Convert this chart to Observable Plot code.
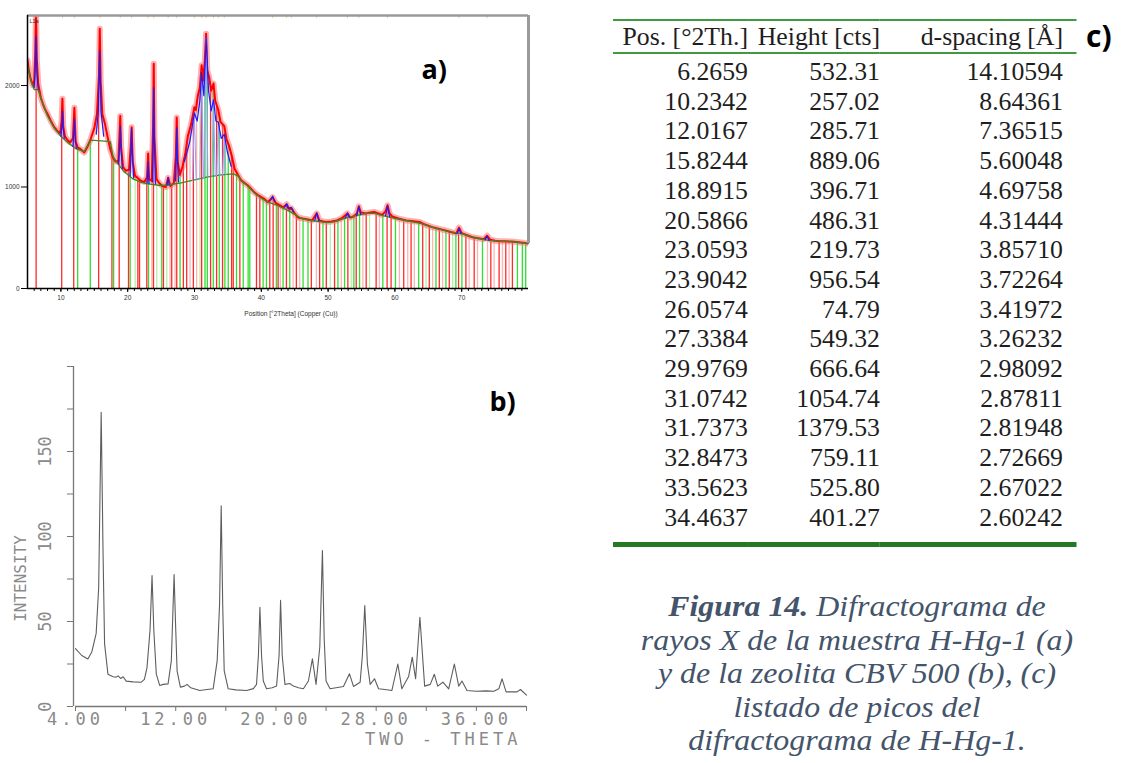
<!DOCTYPE html>
<html><head><meta charset="utf-8">
<script src="https://cdn.jsdelivr.net/npm/d3@7"></script>
<script src="https://cdn.jsdelivr.net/npm/@observablehq/plot@0.6"></script>
<style>
body{margin:0;background:#fff;}
#fig{position:relative;width:1121px;height:763px;overflow:hidden;background:#fff;}
.abs{position:absolute;}
#tbl{left:613px;top:19px;transform-origin:0 0;font-family:"Liberation Serif","Times New Roman",serif;color:#1e1e1e;}
#tbl table{border-collapse:collapse;table-layout:fixed;}
#tbl th,#tbl td{text-align:right;white-space:nowrap;padding:0;font-weight:normal;}
#tbl thead tr{border-top:2px solid #3f9b3f;border-bottom:2px solid #3f9b3f;}
#tbl tbody tr:last-child td{padding-bottom:10px;}
#tbl tbody{border-bottom:5px solid #237a23;}
#cap{left:457px;width:800px;top:590px;text-align:center;font-family:"Liberation Serif","Times New Roman",serif;font-style:italic;color:#44546a;font-size:29px;line-height:33.5px;transform:scaleX(1.1);transform-origin:400px 0;}
#clab{left:1086px;top:15px;font-family:"Open Sans",sans-serif;font-weight:700;font-size:30px;color:#000;}
</style></head><body><div id="fig"></div><script>
// ---------- Panel a: H-Hg-1 diffractogram ----------
const yMaxA = 2690;
const xTicksMajorA = [10, 20, 30, 40, 50, 60, 70];
const xTicksMinorA = d3.range(6, 80, 1);
const yTicksA = [0, 1000, 2000];
const scanA = [[5.0,2250],[5.2,2150],[5.5,2060],[5.8,2000],[6.0,2050],[6.15,2300],[6.27,2720],[6.4,2250],[6.6,2020],[6.8,1950],[7.0,1880],[7.3,1820],[7.6,1770],[8.0,1720],[8.5,1650],[9.0,1590],[9.5,1550],[9.9,1530],[10.1,1650],[10.23,1870],[10.35,1600],[10.6,1500],[11.0,1460],[11.4,1440],[11.8,1480],[12.02,1780],[12.2,1450],[12.5,1390],[13.0,1370],[13.5,1340],[14.0,1400],[14.5,1480],[15.0,1580],[15.4,1720],[15.7,2100],[15.82,2560],[15.95,2050],[16.2,1720],[16.6,1620],[17.0,1490],[17.4,1370],[17.8,1290],[18.2,1250],[18.6,1260],[18.8,1560],[18.89,1700],[19.0,1400],[19.3,1200],[19.7,1160],[20.2,1170],[20.45,1400],[20.59,1590],[20.75,1250],[21.1,1110],[21.5,1090],[22.0,1060],[22.5,1050],[22.9,1100],[23.06,1330],[23.2,1080],[23.6,1060],[23.8,1600],[23.9,2215],[24.0,1500],[24.3,1080],[24.7,1040],[25.2,1010],[25.7,1000],[26.06,1090],[26.4,1010],[26.9,1040],[27.2,1300],[27.34,1685],[27.5,1250],[27.8,1120],[28.2,1200],[28.6,1320],[29.0,1500],[29.5,1620],[29.98,1785],[30.2,1760],[30.5,1900],[30.8,1980],[31.07,2200],[31.3,2050],[31.55,2250],[31.74,2510],[31.9,2150],[32.2,2080],[32.5,1950],[32.85,2020],[33.1,1850],[33.56,1760],[33.9,1640],[34.2,1620],[34.46,1600],[34.8,1470],[35.2,1400],[35.6,1300],[36.0,1180],[36.5,1120],[37.0,1065],[37.5,1040],[38.0,1015],[38.5,980],[39.0,945],[39.5,920],[40.0,900],[40.5,880],[41.0,850],[41.7,900],[42.2,840],[42.8,820],[43.3,800],[43.8,830],[44.2,780],[44.5,790],[45.0,740],[45.5,700],[46.2,690],[47.0,680],[47.6,670],[48.3,740],[48.7,670],[49.3,660],[49.8,655],[50.5,660],[51.3,670],[52.0,690],[52.9,740],[53.3,700],[53.8,710],[54.3,740],[54.6,810],[54.9,750],[55.7,740],[56.3,750],[56.9,755],[57.5,740],[58.1,725],[58.6,760],[58.9,820],[59.2,740],[59.6,710],[60.5,690],[61.7,670],[62.5,665],[63.7,655],[64.5,630],[65.6,605],[66.5,590],[67.7,570],[68.5,555],[69.2,545],[69.6,600],[70.0,545],[70.8,525],[71.6,505],[72.5,495],[73.3,485],[73.8,520],[74.3,480],[75.0,470],[75.6,466],[76.5,465],[77.5,463],[78.5,455],[79.2,450],[80.0,443]];
const backgroundA = [[5.0,2200],[5.5,2050],[6.0,1960],[6.6,1960],[7.0,1870],[8.0,1700],[9.0,1580],[10.0,1500],[11.0,1440],[12.0,1390],[12.5,1370],[13.0,1360],[13.5,1350],[14.0,1410],[14.4,1460],[15.0,1460],[16.0,1455],[17.0,1450],[17.4,1445],[17.8,1300],[18.5,1230],[19.5,1150],[20.8,1080],[22.0,1045],[23.0,1030],[24.9,1015],[26.0,1020],[28.0,1040],[30.0,1070],[32.0,1100],[34.0,1120],[35.8,1130],[36.5,1110],[37.0,1060],[38.0,1010],[39.0,940],[40.0,890],[41.0,850],[42.0,830],[43.0,800],[44.0,770],[45.0,730],[46.0,690],[47.0,675],[48.0,665],[50.0,650],[51.0,660],[52.0,680],[53.0,700],[54.0,715],[55.0,730],[56.0,740],[57.0,740],[58.0,720],[59.0,705],[60.0,690],[62.0,665],[64.0,640],[66.0,595],[68.0,560],[70.0,540],[72.0,500],[74.0,475],[76.0,465],[78.0,458],[80.0,443]];
const fitPeaksA = [
  [[6.0,1980],[6.15,2150],[6.27,2490],[6.4,2150],[6.6,1960]],
  [[10.0,1500],[10.15,1600],[10.23,1745],[10.32,1600],[10.5,1480]],
  [[11.8,1400],[11.95,1550],[12.02,1670],[12.1,1540],[12.3,1380]],
  [[15.3,1520],[15.6,1750],[15.82,2345],[16.0,1750],[16.4,1500]],
  [[18.6,1230],[18.8,1400],[18.89,1600],[19.0,1380],[19.2,1180]],
  [[20.35,1110],[20.5,1350],[20.59,1575],[20.7,1330],[20.9,1090]],
  [[22.9,1040],[23.06,1250],[23.2,1035]],
  [[23.7,1050],[23.82,1500],[23.9,1977],[24.0,1450],[24.15,1030]],
  [[25.9,1020],[26.06,1095],[26.2,1020]],
  [[27.15,1060],[27.27,1350],[27.34,1585],[27.42,1330],[27.6,1050]],
  [[28.5,1250],[29.3,1450],[29.98,1730],[30.4,1650],[30.8,1850],[31.07,2130],[31.4,1900],[31.74,2470],[32.1,1950],[32.5,1750],[32.85,1860],[33.2,1650],[33.56,1640],[34.0,1480],[34.46,1520],[34.9,1350],[35.5,1200]],
  [[41.4,870],[41.7,910],[42.0,855]],
  [[43.5,800],[43.8,835],[44.0,790],[44.5,800],[44.8,760]],
  [[48.0,668],[48.3,745],[48.6,665]],
  [[52.6,695],[52.9,745],[53.2,703]],
  [[54.3,718],[54.6,810],[54.9,725]],
  [[58.6,718],[58.9,815],[59.2,705]],
  [[69.3,542],[69.6,590],[69.9,540]],
  [[73.5,478],[73.8,515],[74.1,474]]
];
const componentPeaksA = [
  [[29.7,1065],[29.98,1732],[30.25,1070]],
  [[30.8,1080],[31.07,2135],[31.35,1085]],
  [[31.45,1090],[31.74,2470],[32.0,1095]],
  [[32.6,1100],[32.85,1864],[33.1,1105]],
  [[33.3,1108],[33.56,1638],[33.8,1112]],
  [[34.2,1118],[34.46,1523],[34.7,1122]]
];
const sticksRed = [6.29,10.12,11.92,15.65,17.64,18.73,20.12,21.52,21.77,22.86,23.86,25.35,26.59,27.34,28.33,28.83,29.83,31.07,32.41,33.31,34.2,35.55,35.8,36.79,39.28,39.78,41.27,41.77,42.52,43.76,45.25,47.49,48.73,49.73,50.97,52.96,54.21,55.7,57.19,58.83,59.43,61.32,62.42,64.16,65.15,66.65,68.14,69.53,70.63,71.87,74.36,75.6,76.6,77.59];
const sticksGreen = [12.51,14.4,17.89,20.37,23.11,25.1,27.84,31.57,31.92,32.81,33.71,34.55,35.05,36.29,37.29,38.03,38.28,40.27,40.77,42.26,43.26,44.26,46.25,46.99,49.23,51.47,52.47,53.86,54.71,58.19,60.08,63.56,66.15,67.64,69.13,70.03,73.11,78.34,79.08,79.58];
const sticksPaleRed = [23.61,26.34,27.09,29.33,30.32,42.86,44.76,45.75,48.24,51.97,55.2,57.69,60.68,61.92,62.91,65.65,67.14,71.12,72.37,73.86,74.85,76.1,77.09];
const sticksPaleGreen = [21.12,24.35,25.85,30.82,50.33,53.46,56.2,64.66,68.64];
const extraPeakMarksA = [41.7,43.8,44.5,48.3,52.9,54.6,58.9,69.6,73.8];

// ---------- Peak list (table c) ----------
const peakPos = [6.2659,10.2342,12.0167,15.8244,18.8915,20.5866,23.0593,23.9042,26.0574,27.3384,29.9769,31.0742,31.7373,32.8473,33.5623,34.4637];
const peakHeight = [532.31,257.02,285.71,889.06,396.71,486.31,219.73,956.54,74.79,549.32,666.64,1054.74,1379.53,759.11,525.80,401.27];
const peakD = [14.10594,8.64361,7.36515,5.60048,4.69758,4.31444,3.85710,3.72264,3.41972,3.26232,2.98092,2.87811,2.81948,2.72669,2.67022,2.60242];
const tableHeaders = ["Pos. [°2Th.]", "Height [cts]", "d-spacing [Å]"];

// ---------- Panel b: CBV 500 ----------
const xTicksB = [4, 8, 12, 16, 20, 24, 28, 32, 36, 40];
const xLabelsB = [4, 12, 20, 28, 36];
const yTicksB = [0, 25, 50, 75, 100, 125, 150, 175, 200];
const yLabelsB = [0, 50, 100, 150];
const scanB = [[4.0,34],[4.5,30],[4.99,28],[5.3,32],[5.65,43],[5.85,70],[6.05,173],[6.2,90],[6.32,37],[6.59,19],[7.0,17.5],[7.25,17.3],[7.4,18],[7.6,16.5],[7.8,17.5],[8.05,14.9],[8.6,14.5],[9.25,14.3],[9.5,16],[9.71,23],[9.95,45],[10.11,77],[10.25,45],[10.45,19],[10.72,12.4],[11.0,13],[11.39,13.3],[11.65,27],[11.87,77.6],[11.98,50],[12.11,21],[12.37,11.4],[12.7,12],[12.9,13],[13.2,11],[13.92,9.4],[14.5,10],[14.99,10.4],[15.31,27],[15.5,60],[15.63,118],[15.75,60],[15.87,21],[16.19,10.4],[16.8,9.8],[17.65,9.4],[18.2,10.5],[18.45,13],[18.6,30],[18.72,58.4],[18.85,30],[18.99,15],[19.25,10.4],[19.7,11],[20.05,12],[20.25,30],[20.37,62.4],[20.5,30],[20.72,13],[21.1,13.5],[21.39,12],[21.8,11],[22.19,10.4],[22.59,15],[22.91,28],[23.2,13],[23.5,35],[23.71,91.8],[23.85,40],[24.0,15],[24.32,10.4],[24.8,11],[25.39,11.8],[25.87,19.2],[26.19,11.8],[26.72,14.3],[26.9,30],[27.09,59.4],[27.3,25],[27.52,13],[27.87,16.3],[28.19,10.4],[28.7,10],[29.25,9.4],[29.73,25],[30.05,10.4],[30.59,17.6],[30.88,29],[31.15,16.3],[31.49,52.5],[31.87,12],[32.32,13],[32.64,19],[32.91,12],[33.33,14.3],[33.79,10.4],[34.24,25],[34.59,12],[34.85,15],[35.25,9.4],[36.0,9],[36.8,9.2],[37.39,9],[37.79,10.4],[38.05,16.3],[38.37,8.6],[39.25,8.6],[39.52,10],[40.0,6.7]];

// ---------- build ----------
const fig = document.getElementById("fig");
const seg = arr => arr.flatMap((s, i) => s.map(p => ({seg: i, x: p[0], y: p[1]})));
const X = d => d[0], Y = d => d[1];
const sticks = (data, color) => Plot.ruleX(data, {x: d => d, y1: 0, y2: () => yMaxA, stroke: color, strokeWidth: 1.3});

const plotA = Plot.plot({
  width: 540, height: 330,
  marginLeft: 27, marginRight: 12, marginTop: 15, marginBottom: 42,
  x: {domain: [5, 80], label: null}, y: {domain: [0, yMaxA], label: null},
  style: {fontFamily: "'Liberation Sans', Arial, sans-serif", background: "transparent", color: "#000"},
  marks: [
    sticks(sticksPaleGreen, "#b6f0a8"),
    sticks(sticksPaleRed, "#ffb4b4"),
    sticks(sticksGreen, "#2fe02f"),
    sticks(sticksRed, "#ff2a2a"),
    Plot.areaY(scanA, {x: X, y1: Y, y2: () => yMaxA, fill: "white", clip: true}),
    Plot.line(scanA, {x: X, y: Y, stroke: "#ff7070", strokeWidth: 6, strokeOpacity: 0.55, clip: true}),
    Plot.line(scanA, {x: X, y: Y, stroke: "#ff0000", strokeWidth: 2, clip: true}),
    Plot.line(backgroundA, {x: X, y: Y, stroke: "#3a8a22", strokeWidth: 1.3}),
    Plot.line(seg(componentPeaksA), {x: "x", y: "y", z: "seg", stroke: "#9a9cff", strokeWidth: 1}),
    Plot.line(seg(fitPeaksA), {x: "x", y: "y", z: "seg", stroke: "#1c1cff", strokeWidth: 1.2, clip: true}),
    Plot.ruleX(peakPos.concat(extraPeakMarksA), {x: d => d, y1: () => yMaxA - 25, y2: () => yMaxA, stroke: "#f0a040", strokeWidth: 1}),
    Plot.ruleY([yMaxA], {stroke: "#9a9a9a", strokeWidth: 2.5}),
    Plot.ruleX([80], {y1: () => scanA[scanA.length - 1][1], y2: () => yMaxA, stroke: "#9a9a9a", strokeWidth: 3}),
    Plot.ruleX([5], {stroke: "#000", strokeWidth: 1.5}),
    Plot.ruleY([0], {stroke: "#000", strokeWidth: 1.5}),
    Plot.axisX(xTicksMinorA, {tickSize: 3, tickFormat: () => "", stroke: "#000", label: null}),
    Plot.axisX(xTicksMajorA, {tickSize: 4, tickPadding: 3, tickFormat: d => String(d), fontSize: 6.5, fill: "#333", stroke: "#000", label: null}),
    Plot.axisY(yTicksA, {tickSize: 6, tickPadding: 2, tickFormat: d => String(d), fontSize: 6.5, fill: "#333", stroke: "#000", label: null}),
    Plot.text(["Position [°2Theta] (Copper (Cu))"], {frameAnchor: "bottom", dx: 13, dy: 27, fontSize: 6.5, fill: "#333"}),
    Plot.text(["L1a"], {frameAnchor: "top-left", dx: 2, dy: 4, fontSize: 5.5, fill: "#333"}),
    Plot.text(["a)"], {frameAnchor: "top-right", textAnchor: "start", dx: -107, dy: 44, fontSize: 27, fontWeight: 700, fontFamily: "'Open Sans', sans-serif", fill: "#000"})
  ]
});
plotA.classList.add("abs"); plotA.style.left = "0px"; plotA.style.top = "0px";
fig.appendChild(plotA);

const mono = "'DejaVu Sans Mono', 'Liberation Mono', monospace";
const plotB = Plot.plot({
  width: 540, height: 423,
  marginLeft: 75, marginRight: 14, marginTop: 26, marginBottom: 57,
  x: {domain: [4, 40], label: null}, y: {domain: [0, 200], label: null},
  style: {fontFamily: mono, background: "transparent", color: "#777"},
  marks: [
    Plot.ruleX([4], {stroke: "#777", strokeWidth: 1.3, dx: -2}),
    Plot.ruleY([0], {stroke: "#777", strokeWidth: 1.3}),
    Plot.axisY(yTicksB, {tickSize: 6, tickFormat: () => "", stroke: "#777", dx: -2, label: null}),
    Plot.axisX(xTicksB, {tickSize: 5, tickFormat: () => "", stroke: "#777", label: null}),
    Plot.text(yLabelsB, {y: d => d, text: d => String(d), frameAnchor: "left", textAnchor: "middle", dx: -30, rotate: -90, fontSize: 17, fill: "#8a8a8a"}),
    Plot.text(xLabelsB, {x: d => d, text: d => d.toFixed(2), frameAnchor: "bottom", textAnchor: "middle", dy: 18, dx: 0, fontSize: 17, fill: "#8a8a8a"}),
    Plot.line(scanB, {x: X, y: Y, stroke: "#5e5e5e", strokeWidth: 1.1}),
    Plot.text(["TWO - THETA"], {frameAnchor: "bottom-right", textAnchor: "end", dx: -5, dy: 38, fontSize: 17, fill: "#8a8a8a"}),
    Plot.text(["INTENSITY"], {frameAnchor: "left", textAnchor: "middle", dx: -55, dy: 42, rotate: -90, fontSize: 16, fill: "#8a8a8a"}),
    Plot.text(["b)"], {frameAnchor: "top-right", textAnchor: "start", dx: -37, dy: 25, fontSize: 27, fontWeight: 700, fontFamily: "'Open Sans', sans-serif", fill: "#000"})
  ]
});
d3.select(plotB).selectAll("text")
  .filter(function() { return /\.00$|THETA/.test(this.textContent); })
  .style("letter-spacing", "4px");
plotB.classList.add("abs"); plotB.style.left = "0px"; plotB.style.top = "340px";
fig.appendChild(plotB);

// ---------- table c ----------
const k = 1.03, fs = 25;
const colRight = [748, 880, 1077];
const colW = colRight.map((r, i) => (r - (i ? colRight[i - 1] : 613)) / k);
const tdiv = document.createElement("div");
tdiv.id = "tbl"; tdiv.className = "abs";
tdiv.style.transform = `scaleX(${k})`;
tdiv.style.fontSize = fs + "px";
const table = d3.select(tdiv).append("table");
const cg = table.append("colgroup");
colW.forEach(w => cg.append("col").style("width", w + "px"));
table.append("thead").append("tr").style("height", "33px").selectAll("th").data(tableHeaders).join("th").text(d => d)
  .style("padding-right", (d, i) => i === 2 ? (14 / k) + "px" : "0px");
const rows = peakPos.map((p, i) => [p.toFixed(4), peakHeight[i].toFixed(2), peakD[i].toFixed(5)]);
table.append("tbody").selectAll("tr").data(rows).join("tr").style("height", "29.7px").style("line-height", "29.7px")
  .selectAll("td").data(d => d).join("td").text(d => d)
  .style("padding-right", (d, i) => i === 2 ? (14 / k) + "px" : "0px");
table.select("tbody tr").selectAll("td").style("padding-top", "3px");
fig.appendChild(tdiv);

const clab = document.createElement("div");
clab.id = "clab"; clab.className = "abs"; clab.textContent = "c)";
fig.appendChild(clab);

const cap = document.createElement("div");
cap.id = "cap"; cap.className = "abs";
cap.innerHTML = "<b>Figura 14.</b> Difractograma de<br>rayos X de la muestra H-Hg-1 (a)<br>y de la zeolita CBV 500 (b), (c)<br>listado de picos del<br>difractograma de H-Hg-1.";
fig.appendChild(cap);
</script></body></html>
